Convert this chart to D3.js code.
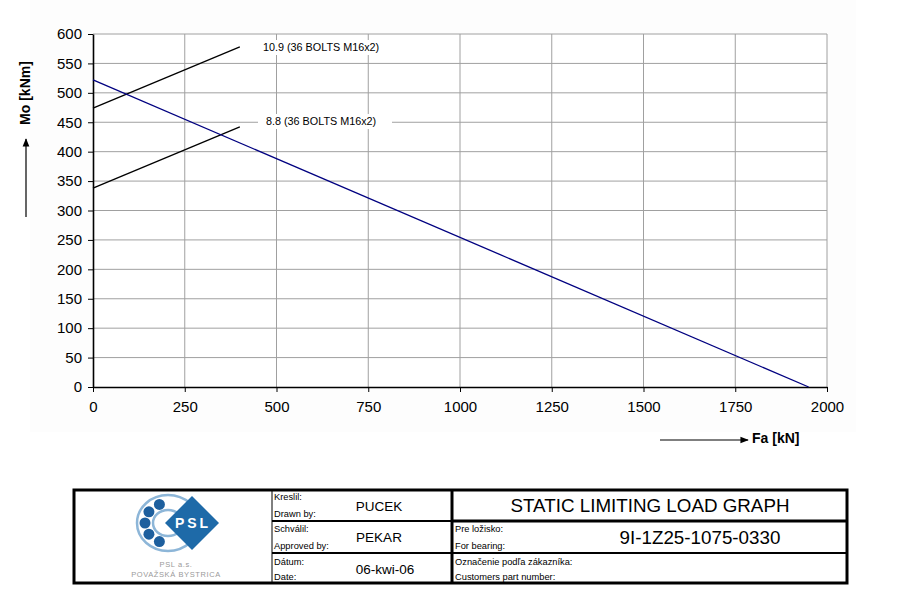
<!DOCTYPE html>
<html>
<head>
<meta charset="utf-8">
<script src="https://cdn.jsdelivr.net/npm/d3@7"></script>
<style>
  body { margin: 0; background: #fff; }
  svg { display: block; font-family: "Liberation Sans", Arial, sans-serif; }
</style>
</head>
<body>
<svg id="chart" width="915" height="604"></svg>
<script>
// static limiting load curve
const limitFa = [0, 1950];
const limitMo = [522, 0];

// bolt lines
const bolt109Fa = [0, 400];
const bolt109Mo = [474, 578];
const bolt88Fa = [0, 400];
const bolt88Mo = [338, 442];

const boltLabels = ["10.9 (36 BOLTS M16x2)", "8.8 (36 BOLTS M16x2)"];
const xTicks = [0, 250, 500, 750, 1000, 1250, 1500, 1750, 2000];
const yTicks = [0, 50, 100, 150, 200, 250, 300, 350, 400, 450, 500, 550, 600];

const svg = d3.select('#chart');

svg.append('rect').attr('x', 30).attr('y', 0).attr('width', 826).attr('height', 432)
    .attr('fill', '#fdfdfd');

const x = d3.scaleLinear().domain([0, 2000]).range([93, 827]);
const y = d3.scaleLinear().domain([0, 600]).range([387, 34]);

svg.append('rect').attr('x', x(0)).attr('y', y(600))
    .attr('width', x(2000) - x(0)).attr('height', y(0) - y(600)).attr('fill', '#fff');

// grid
svg.append('g').selectAll('line').data(xTicks.slice(1)).join('line')
    .attr('x1', d => x(d)).attr('x2', d => x(d))
    .attr('y1', y(600)).attr('y2', y(0))
    .attr('stroke', '#a0a0a0').attr('stroke-width', 1);
svg.append('g').selectAll('line').data(yTicks.slice(1)).join('line')
    .attr('x1', x(0)).attr('x2', x(2000))
    .attr('y1', d => y(d)).attr('y2', d => y(d))
    .attr('stroke', '#a0a0a0').attr('stroke-width', 1);

// axes
const xAxis = svg.append('g').attr('transform', `translate(0,${y(0)})`)
    .call(d3.axisBottom(x).tickValues(xTicks).tickFormat(d3.format('d'))
        .tickSize(5).tickSizeOuter(0).tickPadding(9));
const yAxis = svg.append('g').attr('transform', `translate(${x(0)},0)`)
    .call(d3.axisLeft(y).tickValues(yTicks).tickFormat(d3.format('d'))
        .tickSize(5).tickSizeOuter(0).tickPadding(6));
[xAxis, yAxis].forEach(a => {
    a.selectAll('text').attr('font-size', 15).attr('fill', '#000')
        .attr('font-family', '"Liberation Sans", Arial, sans-serif');
    a.select('.domain').attr('stroke', '#000').attr('stroke-width', 1.6);
    a.selectAll('.tick line').attr('stroke', '#000');
});

// lines
const line = d3.line().x(d => x(d[0])).y(d => y(d[1]));
function series(fa, mo) { return fa.map((v, i) => [v, mo[i]]); }

svg.append('path').datum(series(bolt109Fa, bolt109Mo)).attr('d', line)
    .attr('fill', 'none').attr('stroke', '#000').attr('stroke-width', 1.3);
svg.append('path').datum(series(bolt88Fa, bolt88Mo)).attr('d', line)
    .attr('fill', 'none').attr('stroke', '#000').attr('stroke-width', 1.3);
svg.append('path').datum(series(limitFa, limitMo)).attr('d', line)
    .attr('fill', 'none').attr('stroke', '#000080').attr('stroke-width', 1.3);

// bolt labels
const labelPos = [[263, 51], [266, 125]];
boltLabels.forEach((t, i) => {
    const g = svg.append('g');
    g.append('rect').attr('x', labelPos[i][0] - 8).attr('y', labelPos[i][1] - 11)
        .attr('width', t.length * 5.9 + 16).attr('height', 15).attr('fill', '#fff');
    g.append('text').attr('x', labelPos[i][0]).attr('y', labelPos[i][1])
        .attr('font-size', 10.8).text(t);
});

// axis titles
svg.append('defs').append('marker').attr('id', 'arr').attr('viewBox', '0 0 10 10')
    .attr('refX', 9).attr('refY', 5).attr('markerWidth', 7).attr('markerHeight', 7)
    .attr('orient', 'auto').append('path').attr('d', 'M0,1 L10,5 L0,9 z').attr('fill', '#000');

svg.append('text').attr('transform', 'translate(30,93) rotate(-90)')
    .attr('text-anchor', 'middle').attr('font-size', 14).attr('font-weight', 'bold').text('Mo [kNm]');
svg.append('line').attr('x1', 26).attr('x2', 26).attr('y1', 217).attr('y2', 139)
    .attr('stroke', '#000').attr('stroke-width', 1.2).attr('marker-end', 'url(#arr)');

svg.append('text').attr('x', 752).attr('y', 443)
    .attr('font-size', 14).attr('font-weight', 'bold').text('Fa [kN]');
svg.append('line').attr('x1', 660).attr('x2', 748).attr('y1', 440).attr('y2', 440)
    .attr('stroke', '#000').attr('stroke-width', 1.2).attr('marker-end', 'url(#arr)');

// title block
const tb = svg.append('g');
tb.append('rect').attr('x', 74).attr('y', 490).attr('width', 773).attr('height', 93)
    .attr('fill', '#fff').attr('stroke', '#000').attr('stroke-width', 3);
tb.append('line').attr('x1', 272).attr('x2', 272).attr('y1', 490).attr('y2', 583)
    .attr('stroke', '#000').attr('stroke-width', 1);
tb.append('line').attr('x1', 452).attr('x2', 452).attr('y1', 490).attr('y2', 583)
    .attr('stroke', '#000').attr('stroke-width', 3);
tb.append('line').attr('x1', 272).attr('x2', 452).attr('y1', 521).attr('y2', 521)
    .attr('stroke', '#000').attr('stroke-width', 2);
tb.append('line').attr('x1', 272).attr('x2', 452).attr('y1', 553).attr('y2', 553)
    .attr('stroke', '#000').attr('stroke-width', 2);
tb.append('line').attr('x1', 452).attr('x2', 847).attr('y1', 521).attr('y2', 521)
    .attr('stroke', '#000').attr('stroke-width', 3);
tb.append('line').attr('x1', 452).attr('x2', 847).attr('y1', 553).attr('y2', 553)
    .attr('stroke', '#000').attr('stroke-width', 2);

const small = [
    ['Kreslil:', 274, 500], ['Drawn by:', 274, 517],
    ['Schválil:', 274, 532], ['Approved by:', 274, 549],
    ['Dátum:', 274, 565], ['Date:', 274, 580],
    ['Pre ložisko:', 455, 532], ['For bearing:', 455, 549],
    ['Označenie podľa zákazníka:', 455, 565], ['Customers part number:', 455, 580]
];
small.forEach(s => tb.append('text').attr('x', s[1]).attr('y', s[2]).attr('font-size', 9.3).text(s[0]));

const big = [['PUCEK', 379, 511], ['PEKAR', 379, 542], ['06-kwi-06', 385, 574]];
big.forEach(s => tb.append('text').attr('x', s[1]).attr('y', s[2]).attr('text-anchor', 'middle')
    .attr('font-size', 13.5).text(s[0]));

tb.append('text').attr('x', 650).attr('y', 512).attr('text-anchor', 'middle')
    .attr('font-size', 18.8).text('STATIC LIMITING LOAD GRAPH');
tb.append('text').attr('x', 700).attr('y', 544).attr('text-anchor', 'middle')
    .attr('font-size', 18.8).text('9I-1Z25-1075-0330');

// logo
const logo = tb.append('g');
logo.append('ellipse').attr('cx', 168).attr('cy', 523).attr('rx', 31).attr('ry', 28)
    .attr('fill', 'none').attr('stroke', '#8db6d8').attr('stroke-width', 2.5);
logo.append('ellipse').attr('cx', 168).attr('cy', 523).attr('rx', 15).attr('ry', 13)
    .attr('fill', 'none').attr('stroke', '#8db6d8').attr('stroke-width', 2.5);
[112, 146, 180, 214, 248].forEach(a => {
    const r = a * Math.PI / 180;
    logo.append('circle').attr('cx', 168 + 23 * Math.cos(r)).attr('cy', 523 - 20 * Math.sin(r))
        .attr('r', 5.5).attr('fill', '#1d5f9e');
});
logo.append('path').attr('d', 'M165,523 L192,496 L219,523 L192,550 Z').attr('fill', '#1e6aa8');
logo.append('text').attr('x', 193).attr('y', 528).attr('text-anchor', 'middle')
    .attr('font-size', 14).attr('font-weight', 'bold').attr('fill', '#fff')
    .attr('letter-spacing', 3).text('PSL');
logo.append('text').attr('x', 176).attr('y', 567).attr('text-anchor', 'middle')
    .attr('font-size', 7.5).attr('fill', '#9a9a9a').attr('letter-spacing', 0.6).text('PSL a.s.');
logo.append('text').attr('x', 176).attr('y', 577).attr('text-anchor', 'middle')
    .attr('font-size', 7.5).attr('fill', '#9a9a9a').attr('letter-spacing', 0.6).text('POVAŽSKÁ BYSTRICA');
</script>
</body>
</html>
